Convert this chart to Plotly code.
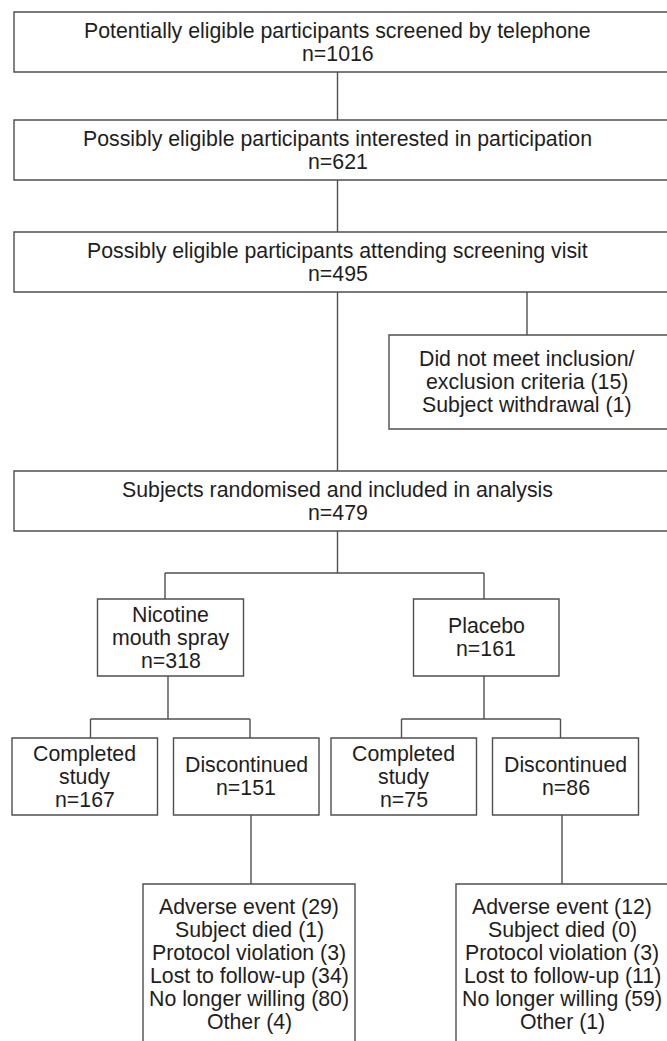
import plotly.graph_objects as go

# flow counts
stage_labels = [
    "Potentially eligible participants screened by telephone",
    "Possibly eligible participants interested in participation",
    "Possibly eligible participants attending screening visit",
    "Subjects randomised and included in analysis",
]
stage_counts = [1016, 621, 495, 479]

excluded_reasons = ["Did not meet inclusion/\nexclusion criteria", "Subject withdrawal"]
excluded_counts = [15, 1]

arm_labels = ["Nicotine\nmouth spray", "Placebo"]
arm_counts = [318, 161]
completed_counts = [167, 75]
discontinued_counts = [151, 86]

discontinue_reasons = [
    "Adverse event",
    "Subject died",
    "Protocol violation",
    "Lost to follow-up",
    "No longer willing",
    "Other",
]
nicotine_reason_counts = [29, 1, 3, 34, 80, 4]
placebo_reason_counts = [12, 0, 3, 11, 59, 1]

W, H = 667, 1041
LINE = dict(color="#4f4f4f", width=1.4)
FONT = dict(family="Liberation Sans, Arial, sans-serif", size=21.3, color="#1e1e1e")
LINE_GAP = 23

fig = go.Figure()
shapes = []
annotations = []


def box(x0, x1, y0, y1, lines, cx=None):
    shapes.append(dict(type="rect", xref="x", yref="y", x0=x0, x1=x1, y0=y0, y1=y1,
                       line=LINE, fillcolor="rgba(0,0,0,0)"))
    if cx is None:
        cx = (x0 + x1) / 2
    mid = (y0 + y1) / 2
    n = len(lines)
    for i, txt in enumerate(lines):
        annotations.append(dict(x=cx, y=mid + (i - (n - 1) / 2) * LINE_GAP, text=txt,
                                xref="x", yref="y", showarrow=False,
                                xanchor="center", yanchor="middle", font=FONT))


def seg(points):
    for (xa, ya), (xb, yb) in zip(points[:-1], points[1:]):
        shapes.append(dict(type="line", xref="x", yref="y", x0=xa, y0=ya, x1=xb, y1=yb,
                           line=LINE))


# main column
stage_y = [(12, 72), (120, 180), (232, 292), (471, 531)]
for (y0, y1), label, count in zip(stage_y, stage_labels, stage_counts):
    box(14, 700, y0, y1, [label, f"n={count}"], cx=337.5)

seg([(337.5, 72), (337.5, 120)])
seg([(337.5, 180), (337.5, 232)])
seg([(337.5, 292), (337.5, 471)])

# excluded
excl_lines = []
for reason, c in zip(excluded_reasons, excluded_counts):
    parts = reason.split("\n")
    parts[-1] = f"{parts[-1]} ({c})"
    excl_lines += parts
seg([(527, 292), (527, 335)])
box(389, 700, 335, 429, excl_lines, cx=527)

# randomisation split
seg([(337.5, 531), (337.5, 573)])
seg([(165, 599), (165, 573), (484, 573), (484, 599)])

arm_x = [(97.5, 243.5), (413.5, 559)]
for (x0, x1), label, count in zip(arm_x, arm_labels, arm_counts):
    box(x0, x1, 599, 676, label.split("\n") + [f"n={count}"])

# outcome split per arm
split_x = [168, 484]
branch_x = [(90.5, 250), (401.5, 560.5)]
outcome_x = [[(12, 157.5), (173.5, 319)], [(331, 476.5), (492.5, 638.5)]]
for sx, (bl, br), ((c0, c1), (d0, d1)), comp, disc in zip(
        split_x, branch_x, outcome_x, completed_counts, discontinued_counts):
    seg([(sx, 676), (sx, 719)])
    seg([(bl, 738), (bl, 719), (br, 719), (br, 738)])
    box(c0, c1, 738, 815, ["Completed", "study", f"n={comp}"])
    box(d0, d1, 738, 815, ["Discontinued", f"n={disc}"])

# reasons for discontinuation
reason_boxes = [(143, 355, 249), (456, 700, 562)]
for (x0, x1, cx), counts in zip(reason_boxes, [nicotine_reason_counts, placebo_reason_counts]):
    lx = 251 if cx < 400 else 562
    seg([(lx, 815), (lx, 884)])
    box(x0, x1, 884, 1045, [f"{r} ({c})" for r, c in zip(discontinue_reasons, counts)], cx=cx)

fig.update_layout(
    width=W,
    height=H,
    margin=dict(l=0, r=0, t=0, b=0),
    plot_bgcolor="white",
    paper_bgcolor="white",
    xaxis=dict(visible=False, range=[0, W], fixedrange=True),
    yaxis=dict(visible=False, range=[H, 0], fixedrange=True),
    shapes=shapes,
    annotations=annotations,
    showlegend=False,
)

# drop the default page margin so the figure sits at the window's corner
fig.write_html(
    "out.html",
    config={"displayModeBar": False},
    post_script="document.body.style.margin='0';document.body.style.overflow='hidden';",
)
